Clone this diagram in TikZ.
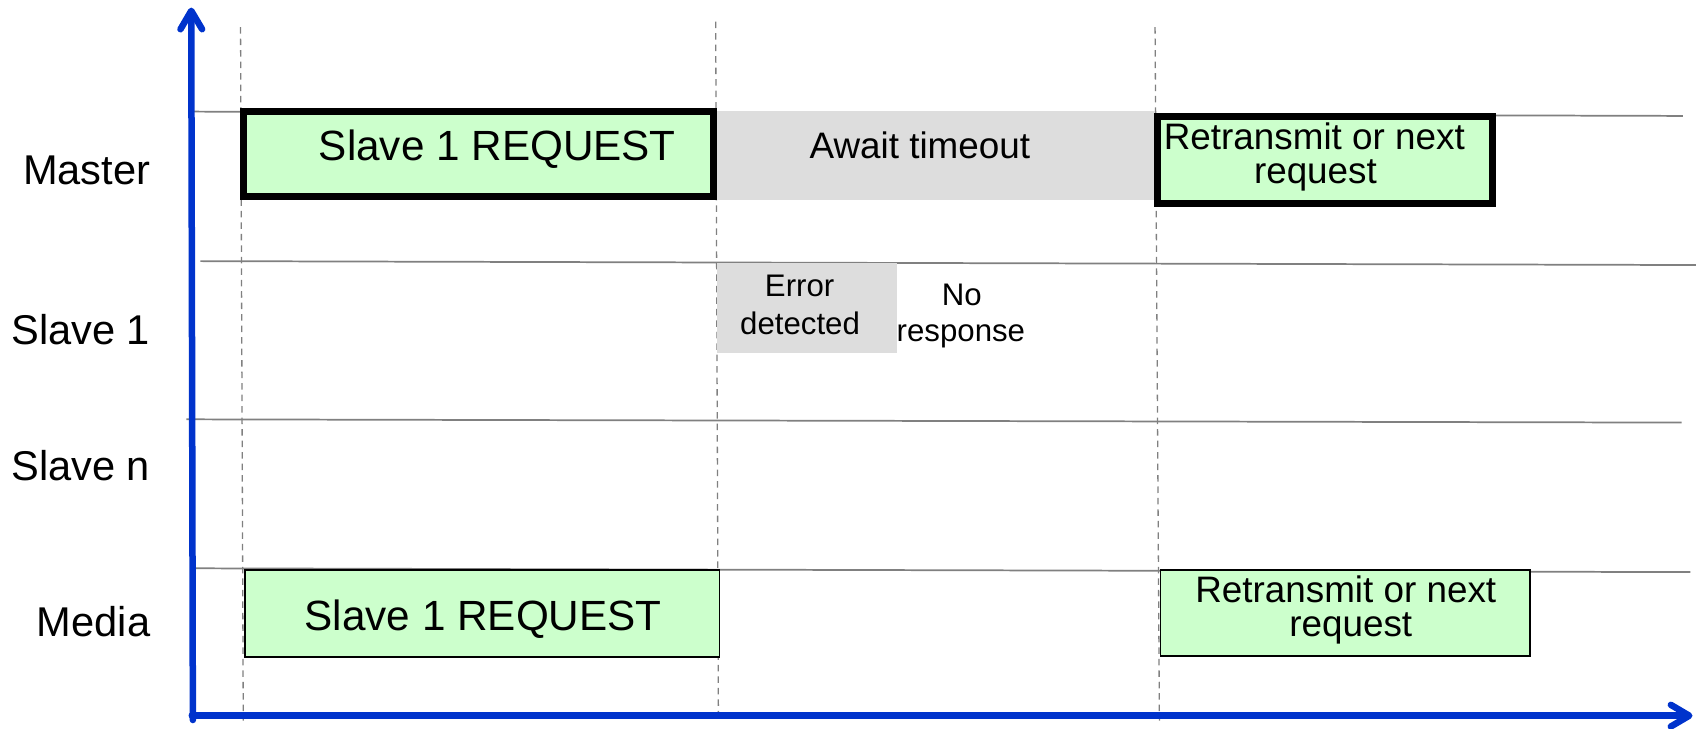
\documentclass[tikz,border=0pt]{standalone}
\usepackage{fontspec}
\setmainfont{Liberation Sans}
\usetikzlibrary{arrows.meta}
\definecolor{boxgreen}{HTML}{CCFFCC}
\definecolor{waitgray}{HTML}{DDDDDD}
\definecolor{rulegray}{HTML}{808080}
\definecolor{axisblue}{HTML}{0033CC}
\tikzset{
  rowline/.style={draw=rulegray, line width=0.8pt},
  slotline/.style={draw=rulegray, line width=0.6pt, dash pattern=on 3pt off 2.3pt},
  axisline/.style={draw=axisblue, line width=3pt, line cap=round,
    -{Straight Barb[length=8.5pt, width=10pt, round]}},
  framebox/.style={rectangle, fill=boxgreen, draw=black, inner sep=0pt},
  thickframe/.style={framebox, line width=3pt},
  thinframe/.style={framebox, line width=0.9pt},
  waitbox/.style={rectangle, fill=waitgray, draw=none, inner sep=0pt},
  txt/.style={inner sep=0pt, anchor=base},
  bigtxt/.style={txt, font=\fontsize{19.5}{23}\selectfont},
  midtxt/.style={txt, font=\fontsize{17}{20}\selectfont},
  smalltxt/.style={txt, font=\fontsize{14.4}{17}\selectfont},
  rowlabel/.style={inner sep=0pt, anchor=base east, font=\fontsize{19.2}{23}\selectfont},
}
\begin{document}
\begin{tikzpicture}[x=0.5pt, y=-0.5pt]
  \useasboundingbox (0,0) rectangle (1568,672);

  % row separators
  \coordinate (m0) at (177,103);   \coordinate (m1) at (1553,107);
  \coordinate (s0) at (185,241);   \coordinate (s1) at (1565,244.6);
  \coordinate (n0) at (172,387);   \coordinate (n1) at (1552,390);
  \coordinate (d0) at (180,524.5); \coordinate (d1) at (1560,528);
  \draw[rowline] (m0) -- (m1);
  \draw[rowline] (s0) -- (s1);
  \draw[rowline] (n0) -- (n1);
  \draw[rowline] (d0) -- (d1);

  % time slot boundaries
  \coordinate (ta0) at (222,25);    \coordinate (ta1) at (224.5,665);
  \coordinate (tb0) at (660.5,20);  \coordinate (tb1) at (663,662);
  \coordinate (tc0) at (1066,25);   \coordinate (tc1) at (1070,665);
  \draw[slotline] (ta0) -- (ta1);
  \draw[slotline] (tb0) -- (tb1);
  \draw[slotline] (tc0) -- (tc1);

  % Master row
  \node[waitbox, minimum width=203pt, minimum height=41.05pt] (await) at (863,143.55) {};
  \node[thickframe, minimum width=217pt, minimum height=39.1pt] (mreq) at (441.5,142.1) {};
  \node[thickframe, line width=3.2pt, minimum width=154.5pt, minimum height=40pt] (mretx) at (1223,147.5) {};
  \node[bigtxt] (mreqtxt) at (459,147.7) {Slave 1 REQUEST};
  \node[midtxt] (awaittxt) at (849,146) {Await timeout};
  \node[midtxt] (mretxa) at (1213,137.6) {Retransmit or next};
  \node[midtxt] (mretxb) at (1214,169.8) {request};

  % Slave 1 row
  \node[waitbox, minimum width=83pt, minimum height=41.75pt] (err) at (745,284.25) {};
  \node[smalltxt] (erra) at (738,273.8) {Error};
  \node[smalltxt] (errb) at (738.4,309) {detected};
  \node[smalltxt] (noresa) at (887.6,281.5) {No};
  \node[smalltxt] (noresb) at (886.8,315) {response};

  % Media row
  \node[thinframe, minimum width=219pt, minimum height=40pt] (dreq) at (445,566) {};
  \node[thinframe, minimum width=170.5pt, minimum height=39.5pt] (dretx) at (1241.5,565.5) {};
  \node[bigtxt] (dreqtxt) at (446,581.5) {Slave 1 REQUEST};
  \node[midtxt] (dretxa) at (1242,556) {Retransmit or next};
  \node[midtxt] (dretxb) at (1246.6,587.6) {request};

  % row labels
  \node[rowlabel] (lmaster) at (139,170.7) {Master};
  \node[rowlabel] (lslave) at (139,318.4) {Slave 1};
  \node[rowlabel] (lslaven) at (139,443) {Slave n};
  \node[rowlabel] (lmedia) at (139,587.6) {Media};

  % axes
  \coordinate (origin) at (178,664.5);
  \coordinate (ytip) at (176.5,7);
  \coordinate (xstart) at (177,660.5);
  \coordinate (xtip) at (1562,660.5);
  \draw[axisline] (origin) -- (ytip);
  \draw[axisline] (xstart) -- (xtip);
\end{tikzpicture}
\end{document}
